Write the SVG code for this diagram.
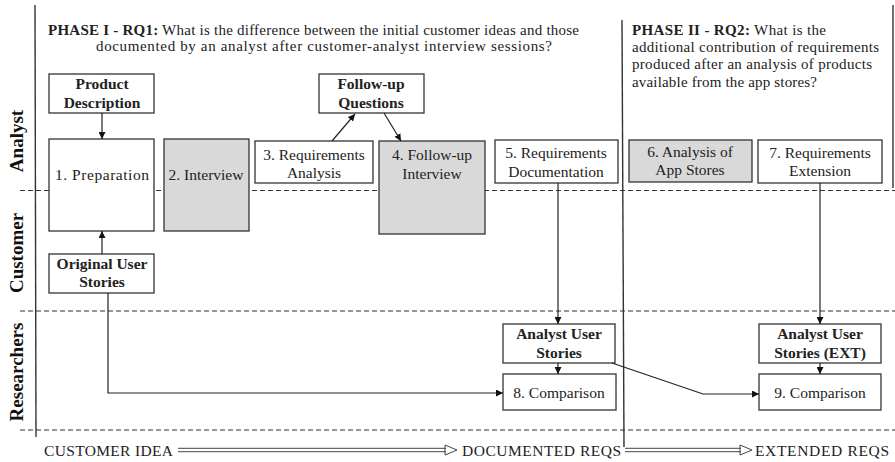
<svg xmlns="http://www.w3.org/2000/svg" width="895" height="462" viewBox="0 0 895 462">
<defs>
<marker id="ah" viewBox="0 0 10 10" refX="10" refY="5" markerWidth="7" markerHeight="7" markerUnits="userSpaceOnUse" orient="auto">
<path d="M0,0 L10,5 L0,10 z" fill="#111"/>
</marker>
</defs>
<style>
text{font-family:"Liberation Serif","Times New Roman",serif;fill:#222}
.bx{fill:#fff;stroke:#333;stroke-width:1.3}
.gr{fill:#d9d9d9;stroke:#333;stroke-width:1.3}
.t{font-size:15.5px;text-anchor:middle}
.b{font-weight:bold}
.q{font-size:15px}
.lane{font-size:19px;font-weight:bold;text-anchor:middle;fill:#111}
.dash{stroke:#333;stroke-width:1.1;stroke-dasharray:5,3;fill:none}
.vl{stroke:#333;stroke-width:1.4;fill:none}
.ca{stroke:#222;stroke-width:1.2;fill:none;marker-end:url(#ah)}
.ft{font-size:15.5px}
.dl{stroke:#444;stroke-width:1;fill:none}
</style>

<g id="frame">
<line class="vl" x1="35" y1="5" x2="36" y2="437"/>
<line class="vl" x1="622" y1="20" x2="624" y2="447"/>
<line class="vl" x1="893" y1="5" x2="893" y2="188"/>
<line class="dash" x1="20" y1="190.5" x2="895" y2="190.5"/>
<line class="dash" x1="20" y1="311" x2="895" y2="311"/>
<line class="dash" x1="20" y1="430" x2="895" y2="430"/>
</g>

<g id="lanes">
<text class="lane" transform="translate(23,141) rotate(-90)">Analyst</text>
<text class="lane" transform="translate(23,253) rotate(-90)">Customer</text>
<text class="lane" transform="translate(23,372) rotate(-90)">Researchers</text>
</g>

<g id="phase1">
<text class="q" x="48" y="35" textLength="531" lengthAdjust="spacing"><tspan class="b">PHASE I - RQ1:</tspan> What is the difference between the initial customer ideas and those</text>
<text class="q" x="96" y="51" textLength="456" lengthAdjust="spacing">documented by an analyst after customer-analyst interview sessions?</text>
</g>
<g id="phase2">
<text class="q" x="632" y="35" textLength="194" lengthAdjust="spacing"><tspan class="b">PHASE II - RQ2:</tspan> What is the</text>
<text class="q" x="632" y="52" textLength="247" lengthAdjust="spacing">additional contribution of requirements</text>
<text class="q" x="632" y="69" textLength="240" lengthAdjust="spacing">produced after an analysis of products</text>
<text class="q" x="632" y="86.5" textLength="185" lengthAdjust="spacing">available from the app stores?</text>
</g>

<g id="product-description">
<rect class="bx" x="49" y="74" width="105" height="39"/>
<text class="t b" x="102" y="89">Product</text>
<text class="t b" x="102" y="108">Description</text>
</g>
<g id="preparation">
<rect class="bx" x="49" y="139" width="105" height="92"/>
<text class="t" x="102" y="180" textLength="94" lengthAdjust="spacing">1. Preparation</text>
</g>
<g id="interview">
<rect class="gr" x="164" y="139" width="85" height="92"/>
<text class="t" x="206" y="180">2. Interview</text>
</g>
<g id="requirements-analysis">
<rect class="bx" x="255" y="141" width="118" height="42"/>
<text class="t" x="314" y="160">3. Requirements</text>
<text class="t" x="314" y="178">Analysis</text>
</g>
<g id="follow-up-questions">
<rect class="bx" x="319" y="74" width="105" height="39"/>
<text class="t b" x="371" y="89">Follow-up</text>
<text class="t b" x="371" y="108">Questions</text>
</g>
<g id="follow-up-interview">
<rect class="gr" x="379" y="141" width="106" height="93"/>
<text class="t" x="432" y="160">4. Follow-up</text>
<text class="t" x="432" y="179">Interview</text>
</g>
<g id="requirements-documentation">
<rect class="bx" x="495" y="140" width="123" height="43"/>
<text class="t" x="556" y="158">5. Requirements</text>
<text class="t" x="556" y="177">Documentation</text>
</g>
<g id="analysis-app-stores">
<rect class="gr" x="629" y="140" width="123" height="42"/>
<text class="t" x="690" y="157">6. Analysis of</text>
<text class="t" x="690" y="175">App Stores</text>
</g>
<g id="requirements-extension">
<rect class="bx" x="758" y="140" width="124" height="43"/>
<text class="t" x="820" y="158">7. Requirements</text>
<text class="t" x="820" y="176">Extension</text>
</g>
<g id="original-user-stories">
<rect class="bx" x="49" y="254" width="105" height="39"/>
<text class="t b" x="102" y="269">Original User</text>
<text class="t b" x="102" y="287">Stories</text>
</g>
<g id="analyst-user-stories">
<rect class="bx" x="503" y="324" width="112" height="39"/>
<text class="t b" x="559" y="339">Analyst User</text>
<text class="t b" x="559" y="358">Stories</text>
</g>
<g id="comparison-8">
<rect class="bx" x="503" y="374" width="113" height="36"/>
<text class="t" x="559" y="398">8. Comparison</text>
</g>
<g id="analyst-user-stories-ext">
<rect class="bx" x="759" y="324" width="122" height="39"/>
<text class="t b" x="820" y="339">Analyst User</text>
<text class="t b" x="820" y="358">Stories (EXT)</text>
</g>
<g id="comparison-9">
<rect class="bx" x="759" y="374" width="122" height="36"/>
<text class="t" x="820" y="398">9. Comparison</text>
</g>

<g id="connectors">
<line class="ca" x1="102" y1="113" x2="102" y2="139"/>
<line class="ca" x1="102" y1="254" x2="102" y2="231"/>
<line class="ca" x1="332" y1="141" x2="355" y2="114"/>
<line class="ca" x1="384" y1="113" x2="401" y2="141"/>
<line class="ca" x1="558" y1="183" x2="558" y2="324"/>
<line class="ca" x1="820" y1="183" x2="820" y2="324"/>
<line class="ca" x1="558" y1="363" x2="558" y2="374"/>
<line class="ca" x1="820" y1="363" x2="820" y2="374"/>
<polyline class="ca" points="108,293 108,393 503,393"/>
<polyline class="ca" points="612,363 703,394 759,394"/>
</g>

<g id="timeline">
<text class="ft" x="44" y="456" textLength="129" lengthAdjust="spacing">CUSTOMER IDEA</text>
<text class="ft" x="462" y="456" textLength="159" lengthAdjust="spacing">DOCUMENTED REQS</text>
<text class="ft" x="755" y="456" textLength="134" lengthAdjust="spacing">EXTENDED REQS</text>
<line class="dl" x1="178" y1="448.3" x2="446" y2="448.3"/>
<line class="dl" x1="178" y1="451.7" x2="446" y2="451.7"/>
<path class="dl" d="M445,445 L457,450 L445,455 z" fill="#fff"/>
<line class="dl" x1="625" y1="448.3" x2="741" y2="448.3"/>
<line class="dl" x1="625" y1="451.7" x2="741" y2="451.7"/>
<path class="dl" d="M740,445 L752,450 L740,455 z" fill="#fff"/>
</g>
</svg>
